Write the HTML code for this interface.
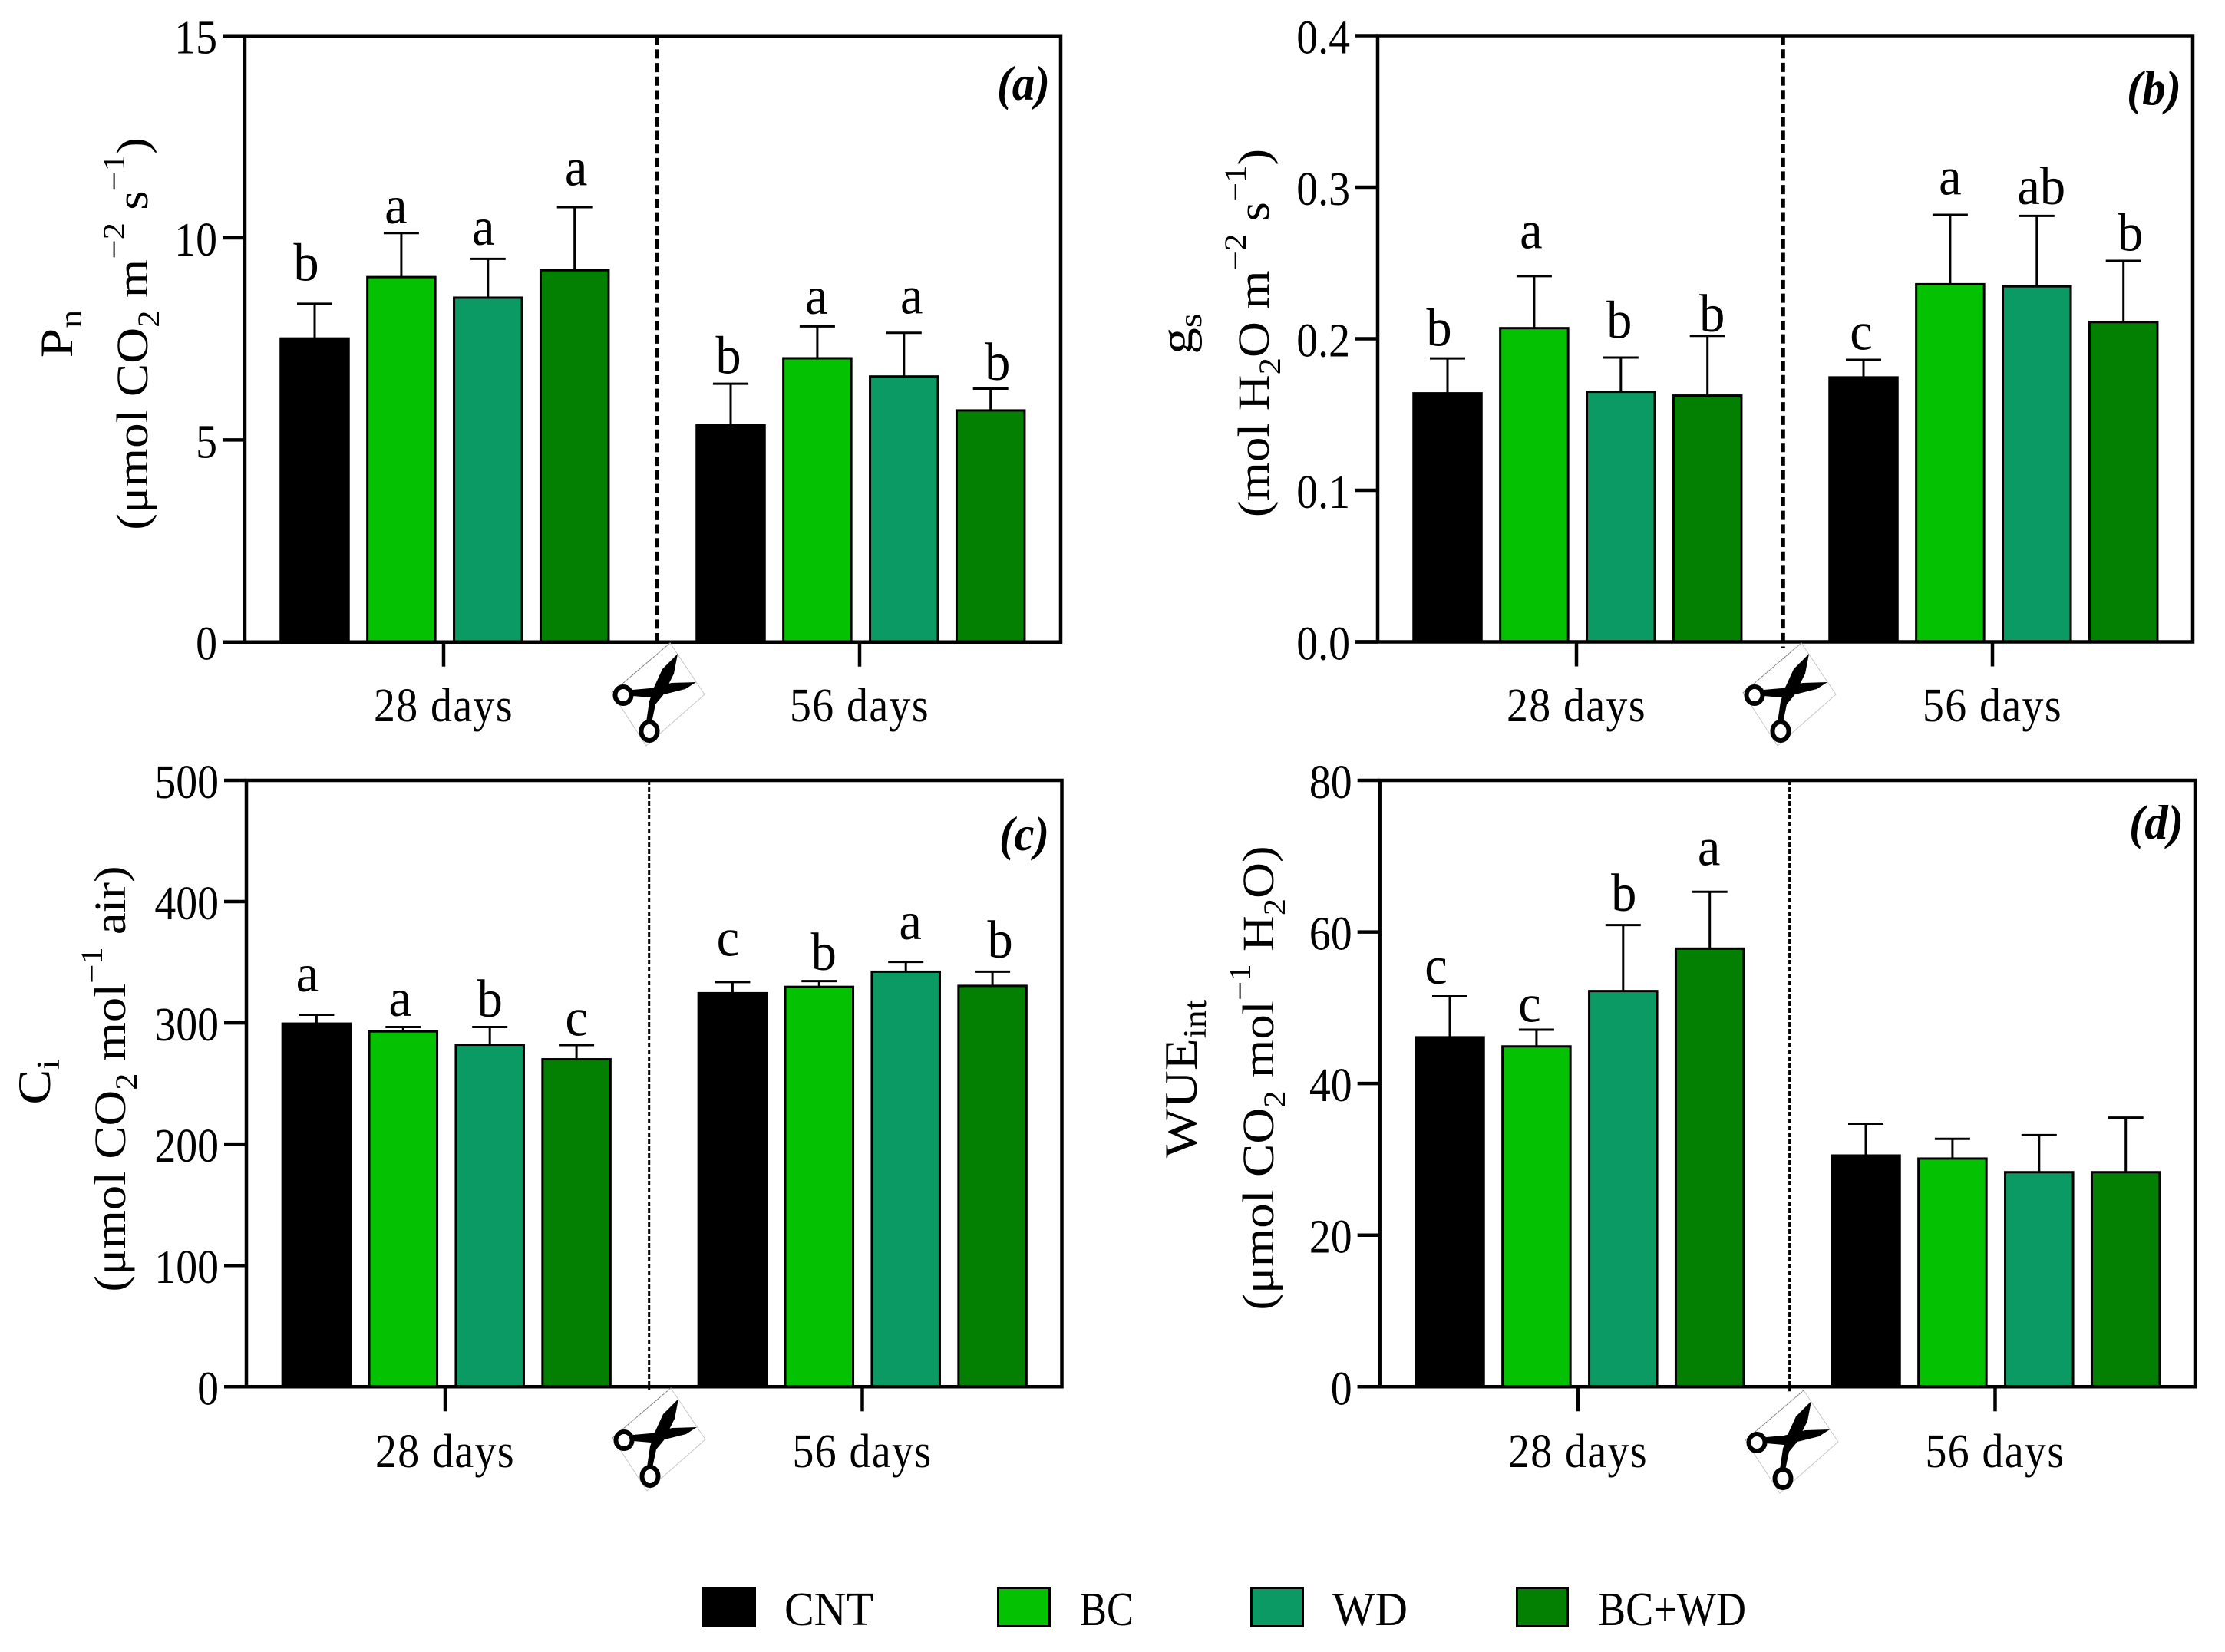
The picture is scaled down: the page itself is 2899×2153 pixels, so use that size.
<!DOCTYPE html>
<html lang="en">
<head>
<meta charset="utf-8">
<title>Gas exchange bar charts</title>
<style>
html,body{margin:0;padding:0;background:#fff;}
svg{display:block;}
text{font-family:"Liberation Serif","DejaVu Serif",serif;fill:#000;}
</style>
</head>
<body>
<svg id="fig" xmlns="http://www.w3.org/2000/svg" width="2899" height="2153" viewBox="0 0 2899 2153">
  <rect width="2899" height="2153" fill="#fff"/>

  <g id="marks"></g>

  <!-- Y axis titles -->
  <g font-size="58">
    <text transform="translate(94,435) rotate(-90) scale(1.15,1)" text-anchor="middle" font-size="60">P<tspan dy="12" font-size="42">n</tspan></text>
    <text transform="translate(192,435) rotate(-90) scale(1.12,1)" text-anchor="middle">(μmol CO<tspan dy="15" font-size="40">2</tspan><tspan dy="-15"> m</tspan><tspan dy="-30" font-size="40">−2</tspan><tspan dy="30"> s</tspan><tspan dy="-30" font-size="40">−1</tspan><tspan dy="30">)</tspan></text>

    <text transform="translate(1553,435) rotate(-90) scale(1.15,1)" text-anchor="middle" font-size="60">g<tspan dy="12" font-size="42">s</tspan></text>
    <text transform="translate(1653,434) rotate(-90) scale(1.12,1)" text-anchor="middle">(mol H<tspan dy="15" font-size="40">2</tspan><tspan dy="-15">O m</tspan><tspan dy="-30" font-size="40">−2</tspan><tspan dy="30"> s</tspan><tspan dy="-30" font-size="40">−1</tspan><tspan dy="30">)</tspan></text>

    <text transform="translate(65,1410) rotate(-90) scale(1.15,1)" text-anchor="middle" font-size="60">C<tspan dy="12" font-size="42">i</tspan></text>
    <text transform="translate(163,1406) rotate(-90) scale(1.115,1)" text-anchor="middle">(μmol CO<tspan dy="15" font-size="40">2</tspan><tspan dy="-15"> mol</tspan><tspan dy="-30" font-size="40">−1</tspan><tspan dy="30"> air)</tspan></text>

    <text transform="translate(1559,1406) rotate(-90) scale(1.14,1)" text-anchor="middle" font-size="60">WUE<tspan dy="12" font-size="42">int</tspan></text>
    <text transform="translate(1659,1405) rotate(-90) scale(1.12,1)" text-anchor="middle">(μmol CO<tspan dy="15" font-size="40">2</tspan><tspan dy="-15"> mol</tspan><tspan dy="-30" font-size="40">−1</tspan><tspan dy="30"> H</tspan><tspan dy="15" font-size="40">2</tspan><tspan dy="-15">O)</tspan></text>
  </g>

  <!-- Panel letters -->
  <g font-size="64" font-weight="bold" font-style="italic">
    <text x="1299" y="130" textLength="69" lengthAdjust="spacingAndGlyphs">(a)</text>
    <text x="2771" y="136" textLength="71" lengthAdjust="spacingAndGlyphs">(b)</text>
    <text x="1302" y="1108" textLength="65" lengthAdjust="spacingAndGlyphs">(c)</text>
    <text x="2774" y="1093" textLength="71" lengthAdjust="spacingAndGlyphs">(d)</text>
  </g>

  <!-- Legend -->
  <g font-size="62">
    <g>
      <rect x="915.5" y="2069.5" width="68" height="50" fill="#000" stroke="#000" stroke-width="3"/>
      <text x="1022" y="2118" textLength="116" lengthAdjust="spacingAndGlyphs">CNT</text>
    </g>
    <g>
      <rect x="1300.5" y="2069.5" width="67" height="50" fill="#04C102" stroke="#000" stroke-width="3"/>
      <text x="1407" y="2118" textLength="70" lengthAdjust="spacingAndGlyphs">BC</text>
    </g>
    <g>
      <rect x="1630.5" y="2069.5" width="67" height="50" fill="#0B9A63" stroke="#000" stroke-width="3"/>
      <text x="1736" y="2118" textLength="98" lengthAdjust="spacingAndGlyphs">WD</text>
    </g>
    <g>
      <rect x="1976.5" y="2069.5" width="66" height="50" fill="#037F02" stroke="#000" stroke-width="3"/>
      <text x="2082" y="2118" textLength="193" lengthAdjust="spacingAndGlyphs">BC+WD</text>
    </g>
  </g>
</svg>

<script>
// ---- chart data ----
const treatments = ['CNT', 'BC', 'WD', 'BC+WD'];
const periods = ['28 days', '56 days'];

const pnTicks = ['0', '5', '10', '15'];
const pnMeans = [[7.51, 9.03, 8.52, 9.20], [5.36, 7.02, 6.57, 5.73]];
const pnErrors = [[0.86, 1.09, 0.96, 1.56], [1.03, 0.79, 1.08, 0.54]];
const pnLetters = [['b', 'a', 'a', 'a'], ['b', 'a', 'a', 'b']];

const gsTicks = ['0.0', '0.1', '0.2', '0.3', '0.4'];
const gsMeans = [[0.164, 0.207, 0.165, 0.1625], [0.1745, 0.236, 0.2346, 0.211]];
const gsErrors = [[0.023, 0.0343, 0.0226, 0.0394], [0.0116, 0.0458, 0.0465, 0.0404]];
const gsLetters = [['b', 'a', 'b', 'b'], ['c', 'a', 'ab', 'b']];

const ciTicks = ['0', '100', '200', '300', '400', '500'];
const ciMeans = [[299.4, 293, 282, 270], [324.5, 329.7, 342.2, 330.5]];
const ciErrors = [[7.3, 3.6, 14.6, 11.7], [9.2, 4.8, 8.1, 11.7]];
const ciLetters = [['a', 'a', 'b', 'c'], ['c', 'b', 'a', 'b']];

const wueTicks = ['0', '20', '40', '60', '80'];
const wueMeans = [[46.1, 44.9, 52.2, 57.8], [30.5, 30.1, 28.3, 28.3]];
const wueErrors = [[5.4, 2.2, 8.7, 7.5], [4.2, 2.6, 4.9, 7.2]];
const wueLetters = [['c', 'c', 'b', 'a'], ['', '', '', '']];

const barColors = ['#000000', '#04C102', '#0B9A63', '#037F02'];

// ---- layout (not data) ----
const SVG_NS = 'http://www.w3.org/2000/svg';
const root = document.getElementById('marks');
const GROUP_START = [410, 952];
const BAR_STEP = 112.9;
const BAR_OUTER = 91.5;

const panels = [
  { key: 'a', ticks: pnTicks, means: pnMeans, errors: pnErrors, letters: pnLetters,
    dx0: 0, left: 319, right: 1382, top: 46.7, bottom: 836.7, dividerX: 856.3, heavyDivider: true, dividerOverrun: 0,
    tick1: 578, tick2: 1120, xLabelY: 940, scissors: [855, 902],
    letterDx: [[-11, -7, -6, 2], [-3, -1, 10, 9]], letterGap: [[32, 14, 20, 30], [15, 18, 27, 13]] },
  { key: 'b', ticks: gsTicks, means: gsMeans, errors: gsErrors, letters: gsLetters,
    dx0: 1476, left: 1795, right: 2857, top: 46.5, bottom: 836.5, dividerX: 2323.3, heavyDivider: true, dividerOverrun: 8,
    tick1: 2054, tick2: 2596, xLabelY: 940, scissors: [2329, 902],
    letterDx: [[-11, -4, -2, 6], [-3, 0, 6, 9]], letterGap: [[18, 38, 27, 7], [15, 28, 17, 15]] },
  { key: 'c', ticks: ciTicks, means: ciMeans, errors: ciErrors, letters: ciLetters,
    dx0: 2.4, left: 321, right: 1383.5, top: 1017, bottom: 1807.3, dividerX: 845.7, heavyDivider: false, dividerOverrun: 4,
    tick1: 580, tick2: 1123.5, xLabelY: 1912, scissors: [856, 1873],
    letterDx: [[-12, -4, 0, 0], [-6, 6, 6, 10]], letterGap: [[32, 16, 15, 14], [36, 16, 31, 20]] },
  { key: 'd', ticks: wueTicks, means: wueMeans, errors: wueErrors, letters: wueLetters,
    dx0: 1479, left: 1797.7, right: 2860, top: 1017, bottom: 1807.3, dividerX: 2331.6, heavyDivider: false, dividerOverrun: 6,
    tick1: 2056, tick2: 2599.5, xLabelY: 1912, scissors: [2332, 1876],
    letterDx: [[-18, -9, 1, -1], [0, 0, 0, 0]], letterGap: [[18, 12, 20, 36], [0, 0, 0, 0]] }
];

function mk(tag, attrs, parent) {
  const el = document.createElementNS(SVG_NS, tag);
  for (const k in attrs) el.setAttribute(k, attrs[k]);
  parent.appendChild(el);
  return el;
}
function put(parent, str, x, y, size, sx, anchor, spacing) {
  const el = mk('text', { transform: 'translate(' + x + ',' + y + ') scale(' + sx + ',1)', 'font-size': size, 'text-anchor': anchor }, parent);
  if (spacing) el.setAttribute('letter-spacing', spacing);
  el.textContent = str;
  return el;
}

function drawScissors(parent, cx, cy, key) {
  const g = mk('g', { transform: 'translate(' + cx + ',' + cy + ')' }, parent);
  
  
  mk('polygon', { points: '18,-64 63,3 -13,70 -58,1', fill: '#fff', stroke: '#c8c8c8', 'stroke-width': 1 }, g);
  mk('line', { x1: 18, y1: -64, x2: -58, y2: 1, stroke: '#777', 'stroke-width': 1, 'stroke-dasharray': '2 1' }, g);
  mk('path', { d: 'M-13,39 L-9,12 L-3,-6 L8,-30 L28,-50 L23,-24 L9,4 L-1,16 L-6,40 Z', fill: '#000' }, g);
  mk('path', { d: 'M-31,-3 L-8,-5 L20,-12 L52,-13 L38,-4 L14,2 L-8,7 L-31,5 Z', fill: '#000' }, g);
  mk('ellipse', { cx: -43, cy: 4, rx: 10.5, ry: 11, fill: '#fff', stroke: '#000', 'stroke-width': 6 }, g);
  mk('ellipse', { cx: -9, cy: 51, rx: 10.5, ry: 12, fill: '#fff', stroke: '#000', 'stroke-width': 6 }, g);
}

panels.forEach(function (p) {
  const tickVals = p.ticks.map(Number);
  const maxVal = tickVals[tickVals.length - 1];
  const yScale = function (v) { return p.bottom - (v / maxVal) * (p.bottom - p.top); };
  const xScale = function (g, i) { return p.dx0 + GROUP_START[g] + i * BAR_STEP; };

  const panel = mk('g', {}, root);
  
  

  // bars, error bars and significance letters
  p.means.forEach(function (groupMeans, g) {
    groupMeans.forEach(function (v, i) {
      const cx = xScale(g, i);
      const yTop = yScale(v);
      const errTop = yScale(v + p.errors[g][i]);

      const stem = mk('line', { x1: cx, x2: cx, y1: yTop, y2: errTop, stroke: '#000', 'stroke-width': 3 }, panel);
      
      

      const cap = mk('line', { x1: cx - 23, x2: cx + 23, y1: errTop, y2: errTop, stroke: '#000', 'stroke-width': 3 }, panel);
      
      

      const bar = mk('rect', { x: cx - BAR_OUTER / 2 + 1.5, y: yTop, width: BAR_OUTER - 3, height: p.bottom - yTop, fill: barColors[i], stroke: '#000', 'stroke-width': 3 }, panel);
      
      

      if (p.letters[g][i]) {
        const letter = put(panel, p.letters[g][i], cx + p.letterDx[g][i], errTop - p.letterGap[g][i] + 1.5, 70, 0.95, 'middle');
        
        
      }
    });
  });

  // frame
  const frame = mk('path', { d: 'M' + p.left + ',' + p.bottom + ' V' + p.top + ' H' + p.right + ' V' + p.bottom + ' H' + (p.left - 29), fill: 'none', stroke: '#000', 'stroke-width': 4.5 }, panel);
  
  

  // y ticks
  p.ticks.forEach(function (t, i) {
    const y = yScale(tickVals[i]);
    const tick = mk('line', { x1: p.left - 29, x2: p.left, y1: y, y2: y, stroke: '#000', 'stroke-width': 4.5 }, panel);
    
    

    const lab = put(panel, t, p.left - 36, y + 23, 62, 0.9, 'end');
    
    
  });

  // x ticks + labels
  [p.tick1, p.tick2].forEach(function (xt, g) {
    const tick = mk('line', { x1: xt, x2: xt, y1: p.bottom, y2: p.bottom + 32, stroke: '#000', 'stroke-width': 4.5 }, panel);
    
    

    const lab = put(panel, periods[g], xt, p.xLabelY, 62, 0.9, 'middle', 1.6);
    
    
  });

  // divider between harvests
  const divider = mk('line', { x1: p.dividerX, x2: p.dividerX, y1: p.top, y2: p.bottom + p.dividerOverrun, stroke: '#000', 'stroke-width': p.heavyDivider ? 5 : 3, 'stroke-dasharray': p.heavyDivider ? '12 5.69' : '6 3' }, panel);
  
  

  drawScissors(panel, p.scissors[0], p.scissors[1], p.key);
});
</script>
</body>
</html>
